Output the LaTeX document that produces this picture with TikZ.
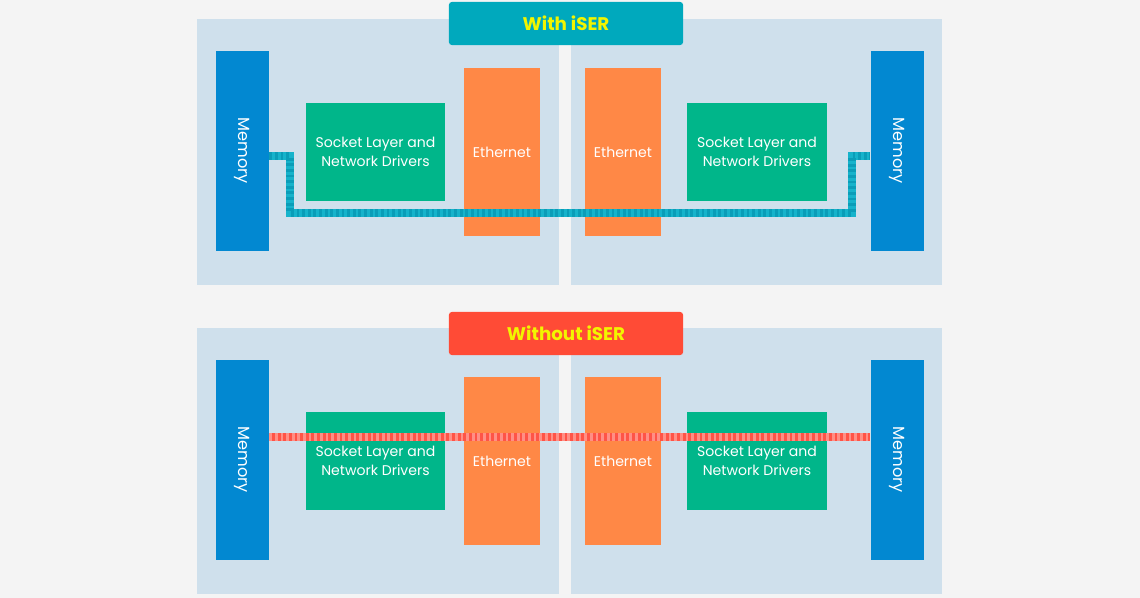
\documentclass[tikz,border=0pt]{standalone}
\usepackage{fontspec}
\setmainfont{Poppins}
\usepackage{xcolor}
\usetikzlibrary{positioning}

\definecolor{pagebg}{HTML}{F4F4F4}
\definecolor{panelbg}{HTML}{CFE0EC}
\definecolor{memblue}{HTML}{0288D1}
\definecolor{sockgreen}{HTML}{00B68A}
\definecolor{ethorange}{HTML}{FF8846}
\definecolor{iserteal}{HTML}{00A9BD}
\definecolor{noiserred}{HTML}{FF4B36}
\definecolor{titleyellow}{HTML}{F2F500}
\definecolor{iserline}{HTML}{16B3CB}
\definecolor{iserdot}{HTML}{0A9DB8}
\definecolor{tcpline}{HTML}{FF5447}
\definecolor{tcpdot}{HTML}{FF8F85}

\begin{document}
\begin{tikzpicture}[
        x=0.025cm, y=-0.025cm,
        every node/.style={font=\fontsize{10}{13.5}\selectfont, text=white},
        panel/.style={fill=panelbg},
        title/.style={
            fill=#1,
            rounded corners=2pt,
            minimum width=5.85cm,
            minimum height=1.075cm,
            text=titleyellow,
            font=\fontsize{13}{15}\selectfont\bfseries
        },
        memory/.style={fill=memblue, minimum width=1.325cm, minimum height=5cm,
            font=\fontsize{11.5}{14}\selectfont},
        socket/.style={fill=sockgreen, minimum width=3.475cm, minimum height=2.45cm, align=center},
        ethernet/.style={fill=ethorange, minimum width=1.9cm, minimum height=4.2cm},
        datapath/.style={line width=5.6pt, draw=#1},
        datadots/.style={line width=5.6pt, draw=#1, dash pattern=on 2pt off 2pt}
    ]

        \fill[pagebg] (0,0) rectangle (1140,598);
        \useasboundingbox (0,0) rectangle (1140,598);

        % with iSER
        \fill[panel] (197,19) rectangle (559,285);
        \fill[panel] (571,19) rectangle (942,285);

        \node[memory]   (meml)  at (242.5,151) {\rotatebox{-90}{Memory}};
        \node[socket]   (sockl) at (375.5,152) {Socket Layer and\\Network Drivers};
        \node[ethernet] (ethl)  at (502,152)   {Ethernet};
        \node[ethernet] (ethr)  at (623,152)   {Ethernet};
        \node[socket]   (sockr) at (757,152)   {Socket Layer and\\Network Drivers};
        \node[memory]   (memr)  at (897,151)   {\rotatebox{-90}{Memory}};

        \node[title=iserteal] (iser) at (566,23.5) {With iSER};

        \coordinate (bendl) at (290,213);
        \coordinate (bendr) at (852,213);
        \draw[datapath=iserline] ([yshift=-3.5pt]meml.east) -| (bendl) -- (bendr) |- ([yshift=-3.5pt]memr.west);
        \draw[datadots=iserdot] ([yshift=-3.5pt]meml.east) -| (bendl) -- (bendr) |- ([yshift=-3.5pt]memr.west);

        % without iSER
        \fill[panel] (197,328) rectangle (559,594);
        \fill[panel] (571,328) rectangle (942,594);

        \node[memory]   (meml2)  at (242.5,460) {\rotatebox{-90}{Memory}};
        \node[socket]   (sockl2) at (375.5,461) {Socket Layer and\\Network Drivers};
        \node[ethernet] (ethl2)  at (502,461)   {Ethernet};
        \node[ethernet] (ethr2)  at (623,461)   {Ethernet};
        \node[socket]   (sockr2) at (757,461)   {Socket Layer and\\Network Drivers};
        \node[memory]   (memr2)  at (897,460)   {\rotatebox{-90}{Memory}};

        \node[title=noiserred] (noiser) at (566,333.5) {Without iSER};

        \draw[datapath=tcpline] ([yshift=16.3pt]meml2.east) -- ([yshift=16.3pt]memr2.west);
        \draw[datadots=tcpdot] ([yshift=16.3pt]meml2.east) -- ([yshift=16.3pt]memr2.west);

    \end{tikzpicture}
\end{document}
